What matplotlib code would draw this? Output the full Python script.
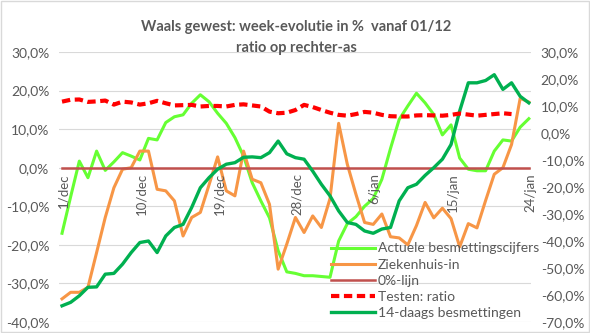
import matplotlib
matplotlib.use('Agg')
import matplotlib.pyplot as plt
from matplotlib.patches import Rectangle

plt.rcParams['font.family'] = ['Lato', 'DejaVu Sans']

# dagelijkse reeksen vanaf 1/dec (dag 0) tot 24/jan (dag 54)
actuele = [-17, -7.5, 1.7, -2.6, 4.3, -0.7, 1.5, 3.9, 3.0, 2.0,
           7.6, 7.2, 11.7, 13.2, 13.7, 16.7, 18.9, 17.1, 14.1, 11.5,
           7.8, 3.0, -3.9, -8.6, -13, -21.5, -27, -27.4, -28, -28,
           -28.2, -28.4, -19, -14.5, -12.7, -10, -8, -3, 5, 12.5,
           16, 19.3, 16.8, 13.8, 8.5, 11.1, 2.5, -0.4, -0.8, -0.8,
           4.3, 7.2, 6.9, 10.5, 12.7]
ziekenhuis = [-34, -32.3, -32.3, -31, -22, -12.9, -5.2, -0.4, 0, 4.3,
              4.3, -5.6, -6, -8.6, -17.7, -12.9, -11.6, -4.5, 2.8, -6,
              -7.3, 4.3, -3, -3.9, -9.5, -26.3, -19.8, -12.9, -16.8, -12.5,
              -15.5, -8, 11.5, 0.9, -6.9, -14.2, -14.7, -12, -17.9, -18.2,
              -20, -15, -9, -13, -10.5, -13.2, -20.5, -14.5, -15.6, -8.5,
              -1.7, 0, 6, 18, 17]
veertiendaags = [-35.8, -34.9, -33.2, -31, -30.9, -27.6, -27.4, -25, -22, -19.4,
                 -19, -22, -17.7, -15.5, -14.7, -10.3, -5.2, -2.6, -0.4, 0.9,
                 1.3, 2.7, 2.8, 2.6, 3.9, 6.9, 3.6, 2.6, 2.2, -0.9,
                 -4.3, -7.3, -11.2, -14.2, -14.7, -16.4, -17, -15.9, -15.5, -8.6,
                 -5.2, -4.3, -2, 0, 2.2, 6, 14.7, 22, 22, 22.6,
                 24.1, 20.3, 22, 18.5, 16.8]
# testratio (rechter-as), loopt tot dag 52
testratio = [11.6, 12.3, 12.4, 11.5, 11.7, 12, 10.5, 11.6, 11.3, 10.5,
             11, 11.9, 11, 10.2, 10.3, 10.4, 9.8, 10, 10, 9.8,
             10.4, 10.6, 10.2, 9.8, 7.9, 7.3, 7.5, 8.5, 10.4, 9.6,
             8.5, 7.5, 6.7, 6.4, 7, 7.8, 7.5, 6.7, 6.2, 6.1,
             6.1, 6.5, 6.6, 6.5, 6.4, 6.7, 7.2, 6.8, 6.4, 6.7,
             7, 7.3, 7]
nullijn = [0] * 55

tick_dagen = [0, 9, 18, 27, 36, 45, 54]
tick_labels = ['1/dec', '10/dec', '19/dec', '28/dec', '6/jan', '15/jan', '24/jan']

GRIJS = '#595959'

def pct(v):
    return f'{v:.1f}%'.replace('.', ',')

fig = plt.figure(figsize=(5.9, 3.33), dpi=100)
fig.patches.append(Rectangle((0.001, 0.002), 0.997, 0.995, transform=fig.transFigure,
                             fill=False, edgecolor='#D9D9D9', lw=1))
ax = fig.add_axes([0.1, 0.033, 0.8, 0.811])
ax2 = ax.twinx()

dagen = list(range(55))
l1, = ax.plot(dagen, actuele, color='#66FF33', lw=2.2, label='Actuele besmettingscijfers')
l2, = ax.plot(dagen, ziekenhuis, color='#F79646', lw=2.2, label='Ziekenhuis-in')
l3, = ax.plot(dagen, nullijn, color='#C0504D', lw=1.8, label='0%-lijn')
l5, = ax.plot(dagen, veertiendaags, color='#00B050', lw=2.4, label='14-daags besmettingen')
l4, = ax2.plot(dagen[:len(testratio)], testratio, color='#FF0000', lw=3,
               dashes=(2, 1.1), label='Testen: ratio')

ax.set_xlim(-0.35, 54.25)
ax.set_ylim(-40, 30)
ax2.set_ylim(-70, 30)
ax.set_yticks(range(-40, 31, 10))
ax.set_yticklabels([pct(v) for v in range(-40, 31, 10)])
ax2.set_yticks(range(-70, 31, 10))
ax2.set_yticklabels([pct(v) for v in range(-70, 31, 10)])
ax.grid(axis='y', color='#D9D9D9', lw=0.8)
ax.set_axisbelow(True)
ax.set_xticks([])
for a in (ax, ax2):
    for s in a.spines.values():
        s.set_visible(False)
    a.tick_params(axis='y', length=0, labelsize=10, colors=GRIJS, pad=7)

# datumlabels staan net onder de 0%-lijn
for d, lab in zip(tick_dagen, tick_labels):
    ax.annotate(lab, (d, 0), xytext=(1, -4), textcoords='offset points',
                rotation=90, ha='center', va='top', fontsize=9.5, color=GRIJS)

fig.text(0.502, 0.92, 'Waals gewest: week-evolutie in %  vanaf 01/12', ha='center',
         va='center', fontsize=10.5, fontweight='bold', color=GRIJS)
fig.text(0.502, 0.857, 'ratio op rechter-as', ha='center', va='center',
         fontsize=10.5, fontweight='bold', color=GRIJS)

ax2.legend(handles=[l1, l2, l3, l4, l5], loc='lower left',
           bbox_to_anchor=(0.555, -0.025), frameon=False, fontsize=10,
           labelcolor=GRIJS, handlelength=3.2, handletextpad=0.2,
           labelspacing=0.3, borderpad=0.2)

fig.savefig('out.png', dpi=100)
